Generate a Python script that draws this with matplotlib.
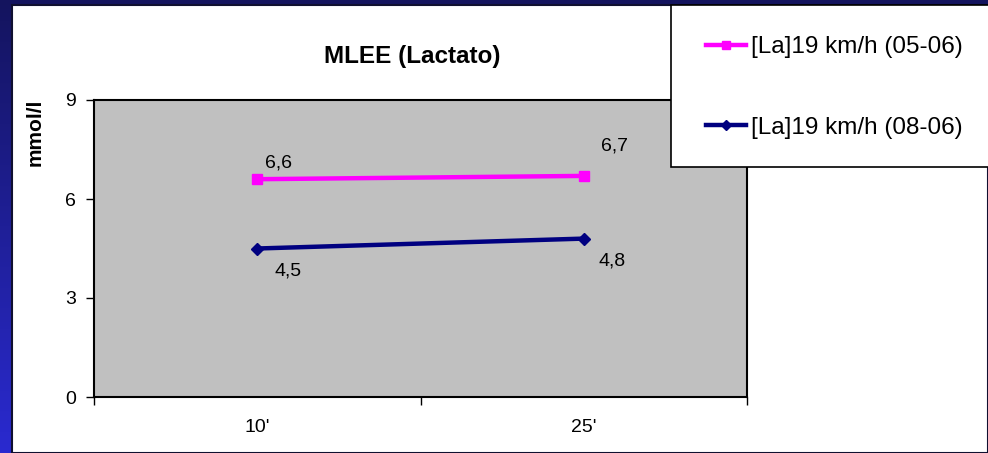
import numpy as np
import matplotlib
matplotlib.use('Agg')
import matplotlib.pyplot as plt
from matplotlib.patches import Rectangle

plt.rcParams['font.family'] = ['Liberation Sans', 'DejaVu Sans']

# datos
categorias = ["10'", "25'"]
serie_05_06 = [6.6, 6.7]
serie_08_06 = [4.5, 4.8]
etiquetas_05_06 = ['6,6', '6,7']
etiquetas_08_06 = ['4,5', '4,8']
nombres = ['[La]19 km/h (05-06)', '[La]19 km/h (08-06)']
y_ticks = [0, 3, 6, 9]

W, H = 988, 453
fig = plt.figure(figsize=(W / 100, H / 100), dpi=100)


def fx(px):
    return px / W


def fy(py):
    return 1 - py / H


# fondo azul degradado
bg = fig.add_axes([0, 0, 1, 1])
grad = np.linspace(0, 1, 256).reshape(-1, 1)
cmap_bg = matplotlib.colors.LinearSegmentedColormap.from_list('fondo', ['#14145e', '#2a2ad0'])
bg.imshow(grad, aspect='auto', cmap=cmap_bg, extent=[0, 1, 0, 1], origin='upper')
bg.set_xlim(0, 1)
bg.set_ylim(0, 1)
bg.axis('off')

# area blanca del grafico
bg.add_patch(Rectangle((fx(12), 0), 1 - fx(12), fy(5), facecolor='white',
                       edgecolor='#101030', linewidth=1.5, transform=bg.transAxes))

# area de trazado
x0, x1, y0, y1 = 94, 747, 100, 397
ax = fig.add_axes([fx(x0), fy(y1), fx(x1 - x0), (y1 - y0) / H])
ax.set_facecolor('#c0c0c0')

xpos = np.arange(len(categorias)) + 0.5
l1, = ax.plot(xpos, serie_05_06, color='#ff00ff', lw=3.2, marker='s', ms=7,
              markeredgecolor='#ff00ff')
l2, = ax.plot(xpos, serie_08_06, color='#000080', lw=3.2, marker='D', ms=6,
              markeredgecolor='#000080')

# etiquetas de datos (desplazamiento en pixeles respecto al punto)
offs_1 = [(21, -16), (31, -30)]
offs_2 = [(31, 22), (28, 22)]
for x, v, t, o in zip(xpos, serie_05_06, etiquetas_05_06, offs_1):
    ax.annotate(t, (x, v), xytext=(o[0] * 0.72, -o[1] * 0.72), textcoords='offset points',
                ha='center', va='center', fontsize=14)
for x, v, t, o in zip(xpos, serie_08_06, etiquetas_08_06, offs_2):
    ax.annotate(t, (x, v), xytext=(o[0] * 0.72, -o[1] * 0.72), textcoords='offset points',
                ha='center', va='center', fontsize=14)

ax.set_xlim(0, 2)
ax.set_ylim(0, 9)
ax.set_yticks(y_ticks)
ax.set_xticks([0, 1, 2])
ax.set_xticklabels([])
ax.set_xticks(xpos, minor=True)
ax.set_xticklabels(categorias, minor=True, fontsize=14)
ax.tick_params(axis='x', which='minor', length=0, pad=16)
ax.tick_params(axis='x', which='major', direction='out', length=6, width=1)
ax.tick_params(axis='y', direction='out', length=6, width=1, labelsize=14, pad=7)
for s in ax.spines.values():
    s.set_linewidth(1.5)
    s.set_color('black')

fig.text(fx(412), fy(63), 'MLEE (Lactato)', ha='center', va='baseline',
         fontsize=17.5, fontweight='bold')
fig.text(fx(35), fy(132), 'mmol/l', ha='center', va='center', rotation=90,
         fontsize=15, fontweight='bold')

# leyenda (por encima del area de trazado)
fig.add_artist(Rectangle((fx(671), fy(167)), 1, fy(5) - fy(167), facecolor='white',
                         edgecolor='black', linewidth=1.2, transform=fig.transFigure,
                         zorder=5))
leg = fig.legend([l1, l2], nombres, loc='upper left', bbox_to_anchor=(fx(694), fy(24)),
                 frameon=False, fontsize=17.5, handlelength=1.65, handletextpad=0.2,
                 labelspacing=2.4, borderpad=0, markerscale=0.8)
leg.set_zorder(6)

fig.savefig('out.png', dpi=100)
